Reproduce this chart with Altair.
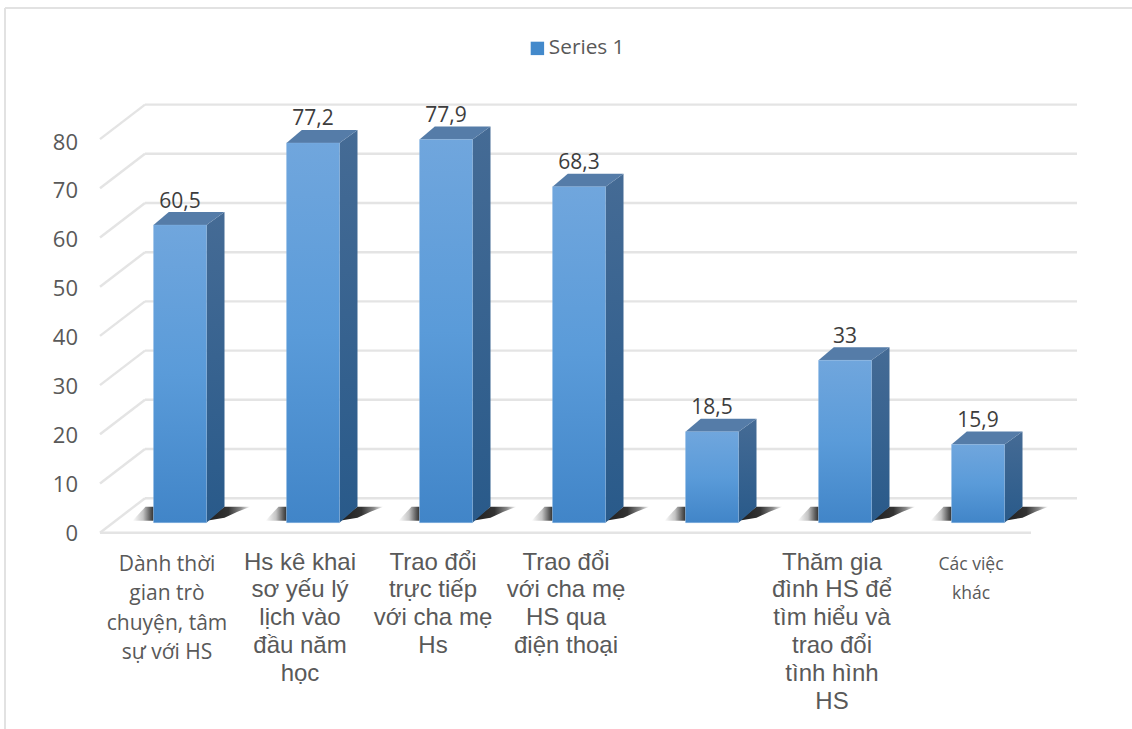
import altair as alt
import pandas as pd

# Chart content
categories = [
    "Dành thời\ngian trò\nchuyện, tâm\nsự với HS",
    "Hs kê khai\nsơ yếu lý\nlịch vào\nđầu năm\nhọc",
    "Trao đổi\ntrực tiếp\nvới cha mẹ\nHs",
    "Trao đổi\nvới cha mẹ\nHS qua\nđiện thoại",
    "",
    "Thăm gia\nđình HS để\ntìm hiểu và\ntrao đổi\ntình hình\nHS",
    "Các việc\nkhác",
]
values = [60.5, 77.2, 77.9, 68.3, 18.5, 33, 15.9]
value_labels = ["60,5", "77,2", "77,9", "68,3", "18,5", "33", "15,9"]
ticks = [0, 10, 20, 30, 40, 50, 60, 70, 80]
series_name = ["Series 1"]

# Canvas and scale geometry
W, H = 1132, 729
PX_PER_CAT = 133.0
PX_PER_UNIT = 4.92
BAR_W = 53.0 / PX_PER_CAT
FIRST_BAR_PX = 180.0
BASE_PX = 522.7


def ux(px):
    return px / PX_PER_CAT


def uy(px):
    return px / PX_PER_UNIT


x_scale = alt.Scale(domain=[-FIRST_BAR_PX / PX_PER_CAT, (W - FIRST_BAR_PX) / PX_PER_CAT], range=[0, W], nice=False, zero=False)
y_scale = alt.Scale(domain=[-(H - BASE_PX) / PX_PER_UNIT, BASE_PX / PX_PER_UNIT], range=[H, 0], nice=False, zero=False)
X = alt.X("x:Q", scale=x_scale, axis=None)
Y = alt.Y("y:Q", scale=y_scale, axis=None)
Y2 = alt.Y2("y2:Q")

# Depth of the chart box and of the bars, in scale units
WALL_X, WALL_Y = ux(45), uy(34.5)
FRONT_X, FRONT_Y = ux(-13), uy(-10)
SIDE_X, SIDE_Y = ux(18), uy(13)
FOOT_Y = uy(16)
GRID_END = ux(1077 - FIRST_BAR_PX)
FLOOR_END = ux(1031 - FIRST_BAR_PX)
TICK_STEP = 4.89 / PX_PER_UNIT

# Grid: back wall, left wall and the front edge of the floor
grid_rows = []
for t in ticks:
    x_front = FRONT_X + ux(-67)
    x_back = x_front + WALL_X
    y_front = t + FRONT_Y
    y_back = y_front + WALL_Y
    grid_rows += [
        {"k": f"w{t}", "x": x_front, "y": y_front},
        {"k": f"w{t}", "x": x_back, "y": y_back},
        {"k": f"b{t}", "x": x_back, "y": y_back},
        {"k": f"b{t}", "x": GRID_END, "y": y_back},
    ]
grid_rows += [
    {"k": "f", "x": FRONT_X + ux(-67), "y": FRONT_Y},
    {"k": "f", "x": FLOOR_END, "y": FRONT_Y},
]
grid = alt.Chart(pd.DataFrame(grid_rows)).mark_line(stroke="#e4e4e4", strokeWidth=2.4).encode(
    x=X, y=Y, detail="k:N", order=alt.Order("x:Q")
)

# Floor shadows cast to either side of each bar, and the three bar faces
left_shadow, right_shadow, side_face, top_face, front = [], [], [], [], []
SHADOW_LOW = uy(2)
SHADOW_HIGH = uy(16)
for i, v in enumerate(values):
    l, r = i - BAR_W / 2, i + BAR_W / 2
    front.append({"x": l, "x2": r, "y": 0, "y2": v})
    side_face += [
        {"b": i, "x": r, "y": v, "y2": 0},
        {"b": i, "x": r + SIDE_X, "y": v + SIDE_Y, "y2": FOOT_Y},
    ]
    top_face += [
        {"b": i, "x": l, "y": v, "y2": v},
        {"b": i, "x": l + SIDE_X * 0.85, "y": v + SIDE_Y, "y2": v},
        {"b": i, "x": r, "y": v + SIDE_Y, "y2": v},
        {"b": i, "x": r + SIDE_X, "y": v + SIDE_Y, "y2": v + SIDE_Y},
    ]
    right_shadow += [
        {"b": i, "x": r, "y": SHADOW_LOW, "y2": SHADOW_LOW},
        {"b": i, "x": r + SIDE_X, "y": SHADOW_HIGH, "y2": uy(5)},
        {"b": i, "x": r + ux(31), "y": SHADOW_HIGH, "y2": uy(11)},
        {"b": i, "x": r + ux(44), "y": SHADOW_HIGH, "y2": SHADOW_HIGH},
    ]
    left_shadow += [
        {"b": i, "x": l - ux(21), "y": SHADOW_LOW, "y2": SHADOW_LOW},
        {"b": i, "x": l - ux(8), "y": SHADOW_HIGH, "y2": SHADOW_LOW},
        {"b": i, "x": l, "y": SHADOW_HIGH, "y2": SHADOW_LOW},
    ]


def gradient(stops, horizontal=False):
    return alt.Gradient(
        gradient="linear",
        stops=[alt.GradientStop(color=c, offset=o) for o, c in stops],
        x1=0, x2=1 if horizontal else 0, y1=0, y2=0 if horizontal else 1,
    )


def faces(rows, fill):
    # One area per bar, so each face gets its own gradient box
    df = pd.DataFrame(rows)
    return alt.layer(*[
        alt.Chart(df[df["b"] == i]).mark_area(fill=fill, line=False, opacity=1, orient="vertical", interpolate="linear").encode(
            x=X, y=Y, y2=Y2
        )
        for i in range(len(values))
    ])


shadow_l = faces(left_shadow, gradient([(0, "#ffffff"), (0.5, "#c4c4c4"), (0.85, "#5a5a5a"), (1, "#333333")], True))
shadow_r = faces(right_shadow, gradient([(0, "#1e1e1e"), (0.5, "#333333"), (0.78, "#8a8a8a"), (1, "#ffffff")], True))
side = faces(side_face, gradient([(0, "#456b95"), (1, "#295a8a")]))
top = faces(top_face, "#557ca8")
bars = alt.Chart(pd.DataFrame(front)).mark_rect(
    fill=gradient([(0, "#70a6dd"), (0.5, "#5a9bd9"), (1, "#4185c8")]),
    stroke="#8fbbe6", strokeWidth=0.8, strokeOpacity=0.4,
).encode(x=X, x2="x2:Q", y=Y, y2=Y2)

# Value labels above each bar
value_df = pd.DataFrame({"x": range(len(values)), "y": values, "t": value_labels})
value_text = alt.Chart(value_df).mark_text(
    font="Open Sans", fontSize=21, color="#3d3d3d", baseline="middle", dy=-23.5
).encode(x=X, y=Y, text="t:N")

# Value axis labels on the front plane
tick_df = pd.DataFrame({
    "x": [FRONT_X + ux(-89)] * len(ticks),
    "y": [t * TICK_STEP + FRONT_Y for t in ticks],
    "t": [str(t) for t in ticks],
})
tick_text = alt.Chart(tick_df).mark_text(
    font="Open Sans", fontSize=22, color="#595959", align="right", baseline="middle", dy=1
).encode(x=X, y=Y, text="t:N")

# Category labels; the first and last use a lighter humanist face
cat_df = pd.DataFrame({"x": range(len(categories)), "t": categories})
cat_df["y"] = uy(-28)
cat_df["x"] = cat_df["x"] + FRONT_X
sans = cat_df.iloc[1:6]
humanist = cat_df.iloc[[0]]
last = cat_df.iloc[[6]]


def cat_layer(df, font, size, line_h, dx=0, dy=0):
    return alt.Chart(df).mark_text(
        font=font, fontSize=size, color="#595959", align="center", baseline="top",
        lineBreak="\n", lineHeight=line_h, dx=dx, dy=dy,
    ).encode(x=X, y=Y, text="t:N")


cats = (
    cat_layer(sans, "Liberation Sans", 24, 27.8)
    + cat_layer(humanist, "Open Sans", 21, 29.5, dy=3)
    + cat_layer(last, "Open Sans", 17.5, 29.5, dx=6, dy=5)
)

# Legend built from the series name
legend_layer = alt.Chart(pd.DataFrame({"s": series_name, "x": [0], "y": [0]})).mark_square(size=0, opacity=0).encode(
    x=X, y=Y,
    color=alt.Color(
        "s:N",
        scale=alt.Scale(domain=series_name, range=["#4389cb"]),
        legend=alt.Legend(
            title=None, orient="none", legendX=527, legendY=38, symbolType="square",
            symbolSize=180, symbolOpacity=1, symbolStrokeWidth=0,
            labelFont="Open Sans", labelFontSize=20.8, labelColor="#595959", labelOffset=1,
        ),
    ),
)

# Outer frame of the chart area, open at the bottom
frame_top = alt.Chart(pd.DataFrame({"x": [ux(5 - FIRST_BAR_PX)], "x2": [ux(W - FIRST_BAR_PX)], "y": [uy(BASE_PX - 8)]})).mark_rule(
    stroke="#e2e2e2", strokeWidth=2
).encode(x=X, x2="x2:Q", y=Y)
frame_left = alt.Chart(pd.DataFrame({"x": [ux(5 - FIRST_BAR_PX)], "y": [uy(BASE_PX - 8)], "y2": [uy(BASE_PX - H)]})).mark_rule(
    stroke="#e2e2e2", strokeWidth=2
).encode(x=X, y=Y, y2=Y2)

chart = (
    alt.layer(frame_top, frame_left, grid, shadow_l, shadow_r, side, top, bars, value_text, tick_text, cats, legend_layer)
    .properties(width=W, height=H, padding=0, autosize=alt.AutoSizeParams(type="none"), background="#ffffff")
    .configure_view(stroke=None)
)

chart.save("out.html", embed_options={"renderer": "svg", "actions": False})
